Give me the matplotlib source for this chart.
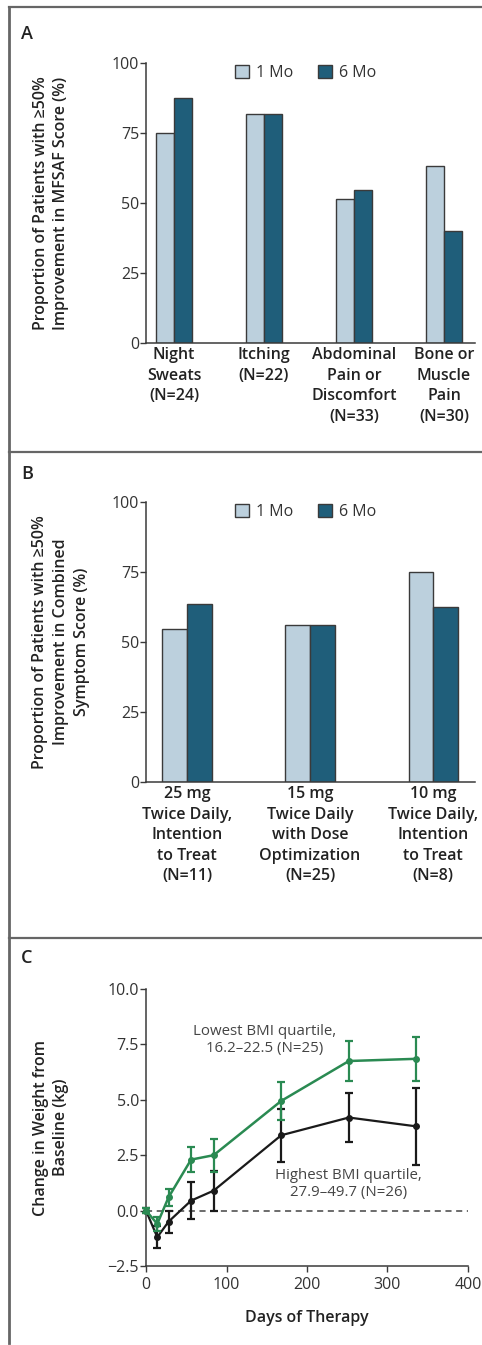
import matplotlib
matplotlib.use("Agg")
import matplotlib.pyplot as plt
from matplotlib.lines import Line2D
from matplotlib.patches import Patch
import numpy as np

plt.rcParams['font.family'] = ['Open Sans', 'DejaVu Sans']

# panel A: MFSAF symptoms
symptoms = ['Night\nSweats\n(N=24)', 'Itching\n(N=22)', 'Abdominal\nPain or\nDiscomfort\n(N=33)',
            'Bone or\nMuscle\nPain\n(N=30)']
a_1mo = [75.0, 81.8, 51.5, 63.3]
a_6mo = [87.5, 81.8, 54.5, 40.0]

# panel B: dose groups
doses = ['25 mg\nTwice Daily,\nIntention\nto Treat\n(N=11)',
         '15 mg\nTwice Daily\nwith Dose\nOptimization\n(N=25)',
         '10 mg\nTwice Daily,\nIntention\nto Treat\n(N=8)']
b_1mo = [54.5, 56.0, 75.0]
b_6mo = [63.6, 56.0, 62.5]

# panel C: weight change by BMI quartile
days = [0, 14, 28, 56, 84, 168, 252, 336]
low_bmi = [0.0, -0.6, 0.6, 2.3, 2.5, 4.95, 6.75, 6.85]
low_err = [0.1, 0.3, 0.38, 0.57, 0.75, 0.85, 0.92, 1.0]
high_bmi = [0.0, -1.2, -0.5, 0.45, 0.9, 3.4, 4.2, 3.8]
high_err = [0.1, 0.5, 0.5, 0.85, 0.9, 1.2, 1.1, 1.75]

LIGHT = '#BCD0DD'
DARK = '#1F5E7A'
GREEN = '#2A8A52'
AXC = '#3A3A3A'

W, H = 482, 1345
fig = plt.figure(figsize=(W / 100, H / 100), dpi=100)


def box(x0, y0, x1, y1):
    # pixel coords from top-left -> figure fraction rect
    return [x0 / W, 1 - y1 / H, (x1 - x0) / W, (y1 - y0) / H]


# frame lines
for y in [7, 452, 938]:
    fig.add_artist(Line2D([9 / W, 1], [1 - y / H, 1 - y / H], color='#666666', lw=1.6))
fig.add_artist(Line2D([9 / W, 9 / W], [1 - 7 / H, 1 - 1343 / H], color='#666666', lw=2.0))

for lab, y in [('A', 34), ('B', 474), ('C', 958)]:
    fig.text(21 / W, 1 - y / H, lab, fontsize=13, fontweight='semibold', va='center',
             ha='left', color='#222222')


def style_axes(ax):
    for s in ['top', 'right']:
        ax.spines[s].set_visible(False)
    for s in ['left', 'bottom']:
        ax.spines[s].set_color(AXC)
        ax.spines[s].set_linewidth(1.1)


def place_ylabel(ax, text, x):
    ax.set_ylabel(text, fontsize=11.5, fontweight='semibold', color='#222222',
                  linespacing=1.4)
    ax.yaxis.label.set_verticalalignment('center')
    ax.yaxis.set_label_coords(x, 0.5)


def bar_panel(rect, cats, v1, v2, xl, width, ylabel, label_x):
    ax = fig.add_axes(rect)
    x = np.arange(len(cats))
    ax.bar(x - width / 2, v1, width, color=LIGHT, edgecolor=AXC, lw=1.0)
    ax.bar(x + width / 2, v2, width, color=DARK, edgecolor=AXC, lw=1.0)
    ax.set_xlim(*xl)
    ax.set_ylim(0, 100)
    ax.set_yticks([0, 25, 50, 75, 100])
    ax.set_xticks(x)
    ax.set_xticklabels(cats, fontsize=11.5, fontweight='semibold', color='#222222',
                       linespacing=1.38)
    ax.tick_params(axis='x', length=0, pad=3)
    ax.tick_params(axis='y', length=4, width=1.0, color=AXC, labelsize=11.5,
                   labelcolor='#333333', pad=1)
    style_axes(ax)
    place_ylabel(ax, ylabel, label_x)
    handles = [Patch(facecolor=LIGHT, edgecolor=AXC, label='1 Mo'),
               Patch(facecolor=DARK, edgecolor=AXC, label='6 Mo')]
    ax.legend(handles=handles, loc='center', bbox_to_anchor=(0.485, 0.965), ncol=2,
              frameon=False, fontsize=11.5, handlelength=0.9, handleheight=0.9,
              handletextpad=0.45, columnspacing=1.5, labelcolor='#333333')
    return ax


bar_panel(box(146, 63, 475, 343), symptoms, a_1mo, a_6mo, (-0.311, 3.344), 0.205,
          'Proportion of Patients with \u226550%\nImprovement in MFSAF Score (%)', -0.289)

bar_panel(box(146, 502, 475, 782), doses, b_1mo, b_6mo, (-0.333, 2.34), 0.2,
          'Proportion of Patients with \u226550%\nImprovement in Combined\nSymptom Score (%)',
          -0.259)

# panel C
ax = fig.add_axes(box(146, 989, 468, 1266))
ax.axhline(0, color='#444444', lw=1.1, ls=(0, (4, 3)))
ax.errorbar(days, high_bmi, yerr=high_err, color='#1A1A1A', lw=1.6, marker='o', ms=4,
            capsize=3, elinewidth=1.6, capthick=1.6, clip_on=False, zorder=3)
ax.errorbar(days, low_bmi, yerr=low_err, color=GREEN, lw=1.8, marker='o', ms=4,
            capsize=3, elinewidth=1.6, capthick=1.6, clip_on=False, zorder=4)
ax.set_xlim(0, 400)
ax.set_ylim(-2.5, 10)
ax.set_xticks([0, 100, 200, 300, 400])
ax.set_yticks([-2.5, 0, 2.5, 5.0, 7.5, 10.0])
ax.set_yticklabels(['\u22122.5', '0.0', '2.5', '5.0', '7.5', '10.0'])
ax.tick_params(length=4, width=1.0, color=AXC, labelsize=11.5, labelcolor='#333333', pad=1)
ax.tick_params(axis='x', pad=4)
style_axes(ax)
place_ylabel(ax, 'Change in Weight from\nBaseline (kg)', -0.295)
ax.set_xlabel('Days of Therapy', fontsize=11.5, fontweight='semibold', color='#222222',
              labelpad=12)
ax.text(147, 7.7, 'Lowest BMI quartile,\n16.2\u201322.5 (N=25)', fontsize=10.8,
        color='#444444', ha='center', va='center', linespacing=1.15)
ax.text(252, 1.2, 'Highest BMI quartile,\n27.9\u201349.7 (N=26)', fontsize=10.8,
        color='#444444', ha='center', va='center', linespacing=1.15)

fig.savefig('out.png', dpi=100)
